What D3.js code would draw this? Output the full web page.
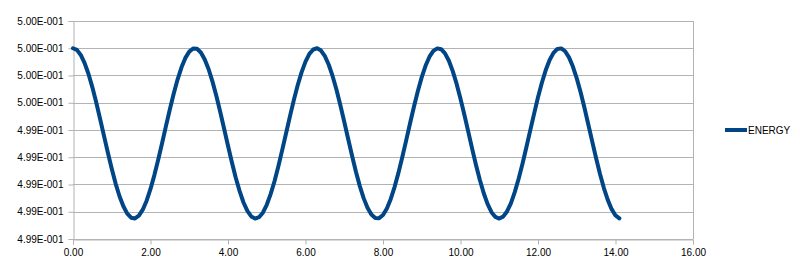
<!DOCTYPE html>
<html>
<head>
<meta charset="utf-8">
<script src="https://cdn.jsdelivr.net/npm/d3@7"></script>
<style>
  body { margin: 0; background: #fff; }
  svg { display: block; font-family: "Liberation Sans", Arial, sans-serif; }
</style>
</head>
<body>
<div id="chart"></div>
<script>
// time values (x)
var times = [
  0.0, 0.1, 0.2, 0.3, 0.4, 0.5, 0.6, 0.7, 0.8, 0.9,
  1.0, 1.1, 1.2, 1.3, 1.4, 1.5, 1.6, 1.7, 1.8, 1.9,
  2.0, 2.1, 2.2, 2.3, 2.4, 2.5, 2.6, 2.7, 2.8, 2.9,
  3.0, 3.1, 3.2, 3.3, 3.4, 3.5, 3.6, 3.7, 3.8, 3.9,
  4.0, 4.1, 4.2, 4.3, 4.4, 4.5, 4.6, 4.7, 4.8, 4.9,
  5.0, 5.1, 5.2, 5.3, 5.4, 5.5, 5.6, 5.7, 5.8, 5.9,
  6.0, 6.1, 6.2, 6.3, 6.4, 6.5, 6.6, 6.7, 6.8, 6.9,
  7.0, 7.1, 7.2, 7.3, 7.4, 7.5, 7.6, 7.7, 7.8, 7.9,
  8.0, 8.1, 8.2, 8.3, 8.4, 8.5, 8.6, 8.7, 8.8, 8.9,
  9.0, 9.1, 9.2, 9.3, 9.4, 9.5, 9.6, 9.7, 9.8, 9.9,
  10.0, 10.1, 10.2, 10.3, 10.4, 10.5, 10.6, 10.7, 10.8, 10.9,
  11.0, 11.1, 11.2, 11.3, 11.4, 11.5, 11.6, 11.7, 11.8, 11.9,
  12.0, 12.1, 12.2, 12.3, 12.4, 12.5, 12.6, 12.7, 12.8, 12.9,
  13.0, 13.1, 13.2, 13.3, 13.4, 13.5, 13.6, 13.7, 13.8, 13.9,
  14.0, 14.1
];

// ENERGY series
var energy = [
  0.500000, 0.499988, 0.499951, 0.499891, 0.499811, 0.499713, 0.499602, 0.499481, 0.499357, 0.499233,
  0.499115, 0.499007, 0.498914, 0.498840, 0.498786, 0.498756, 0.498751, 0.498771, 0.498815, 0.498881,
  0.498967, 0.499069, 0.499183, 0.499305, 0.499430, 0.499552, 0.499668, 0.499772, 0.499860, 0.499929,
  0.499975, 0.499998, 0.499996, 0.499969, 0.499918, 0.499846, 0.499755, 0.499649, 0.499532, 0.499409,
  0.499284, 0.499163, 0.499050, 0.498951, 0.498868, 0.498806, 0.498766, 0.498750, 0.498760, 0.498793,
  0.498851, 0.498929, 0.499024, 0.499134, 0.499254, 0.499378, 0.499502, 0.499621, 0.499730, 0.499825,
  0.499902, 0.499959, 0.499991, 0.500000, 0.499983, 0.499942, 0.499879, 0.499795, 0.499695, 0.499582,
  0.499461, 0.499336, 0.499213, 0.499096, 0.498990, 0.498900, 0.498829, 0.498779, 0.498754, 0.498753,
  0.498776, 0.498824, 0.498894, 0.498983, 0.499087, 0.499203, 0.499326, 0.499451, 0.499572, 0.499686,
  0.499788, 0.499873, 0.499938, 0.499981, 0.499999, 0.499993, 0.499962, 0.499908, 0.499832, 0.499738,
  0.499630, 0.499512, 0.499388, 0.499263, 0.499143, 0.499033, 0.498936, 0.498856, 0.498797, 0.498762,
  0.498750, 0.498764, 0.498802, 0.498862, 0.498944, 0.499042, 0.499153, 0.499273, 0.499397, 0.499520,
  0.499640, 0.499747, 0.499840, 0.499914, 0.499966, 0.499995, 0.499999, 0.499978, 0.499933, 0.499866,
  0.499779, 0.499677, 0.499562, 0.499439, 0.499315, 0.499193, 0.499077, 0.498974, 0.498887, 0.498819,
  0.498773, 0.498752
];

var xTicks = [0, 2, 4, 6, 8, 10, 12, 14, 16];
var yTicks = [0.4986, 0.4988, 0.4990, 0.4992, 0.4994, 0.4996, 0.4998, 0.5000, 0.5002];
var seriesName = 'ENERGY';

var width = 800, height = 276;
var plot = { left: 73, right: 693, top: 21, bottom: 239 };
var lineColor = '#004586';
var gridColor = '#b3b3b3';

// 5.00E-001 style labels
function sciFormat(v) {
  var parts = v.toExponential(2).split('e');
  var exp = parseInt(parts[1], 10);
  var sign = exp < 0 ? '-' : '+';
  return parts[0] + 'E' + sign + d3.format('03d')(Math.abs(exp));
}

var svg = d3.select('#chart').append('svg')
  .attr('width', width)
  .attr('height', height);

var x = d3.scaleLinear().domain([0, 16]).range([plot.left, plot.right]);
var y = d3.scaleLinear().domain([0.4986, 0.5002]).range([plot.bottom, plot.top]);

// horizontal grid
svg.append('g').selectAll('line').data(yTicks).enter().append('line')
  .attr('x1', plot.left)
  .attr('x2', plot.right)
  .attr('y1', function(d) { return Math.round(y(d)) + 0.5; })
  .attr('y2', function(d) { return Math.round(y(d)) + 0.5; })
  .attr('stroke', gridColor)
  .attr('stroke-width', 1);

// right wall edge
svg.append('line')
  .attr('x1', plot.right + 0.5).attr('x2', plot.right + 0.5)
  .attr('y1', plot.top).attr('y2', plot.bottom)
  .attr('stroke', gridColor);

// y axis
var yAxis = d3.axisLeft(y).tickValues(yTicks).tickSize(5).tickPadding(5).tickFormat(sciFormat);
var gy = svg.append('g')
  .attr('transform', 'translate(' + (plot.left + 0.5) + ',0)')
  .call(yAxis);

// x axis
var xAxis = d3.axisBottom(x).tickValues(xTicks).tickSize(5).tickPadding(4).tickFormat(d3.format('.2f'));
var gx = svg.append('g')
  .attr('transform', 'translate(0,' + (plot.bottom + 0.5) + ')')
  .call(xAxis);

[gx, gy].forEach(function(g) {
  g.select('.domain').attr('stroke', gridColor);
  g.selectAll('.tick line').attr('stroke', gridColor);
  g.selectAll('.tick text')
    .attr('fill', '#000')
    .style('font-size', '10px')
    .style('font-family', '"Liberation Sans", Arial, sans-serif');
});

// series line
var data = times.map(function(t, i) { return [t, energy[i]]; });
var line = d3.line()
  .x(function(d) { return x(d[0]); })
  .y(function(d) { return y(d[1]); });

svg.append('path')
  .datum(data)
  .attr('d', line)
  .attr('fill', 'none')
  .attr('stroke', lineColor)
  .attr('stroke-width', 4)
  .attr('stroke-linejoin', 'round')
  .attr('stroke-linecap', 'round');

// legend
var legend = svg.append('g').attr('transform', 'translate(725,130)');
legend.append('line')
  .attr('x1', 0).attr('x2', 22)
  .attr('y1', 0).attr('y2', 0)
  .attr('stroke', lineColor)
  .attr('stroke-width', 4);
legend.append('text')
  .attr('x', 23)
  .attr('y', 0)
  .attr('dy', '0.35em')
  .style('font-size', '10px')
  .text(seriesName);
</script>
</body>
</html>
